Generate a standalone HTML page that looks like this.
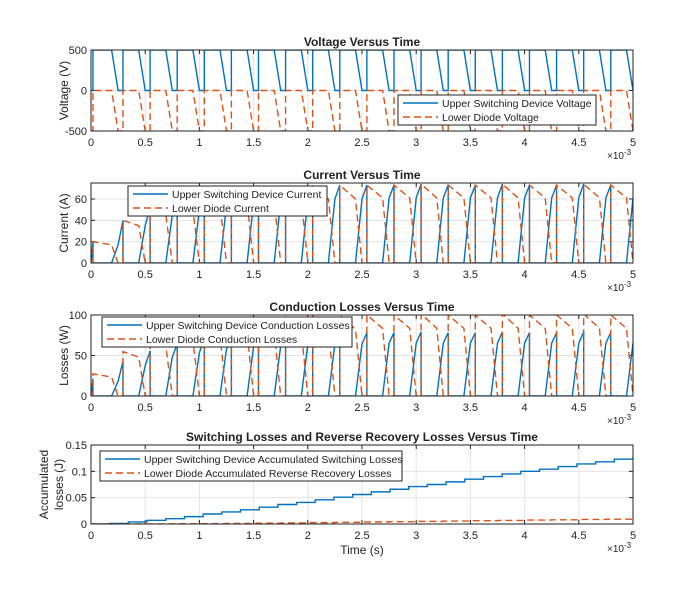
<!DOCTYPE html>
<html><head><meta charset="utf-8"><style>
body{margin:0;background:#fff}
svg text{font-family:"Liberation Sans",sans-serif;fill:#222}
</style></head><body>
<svg id="fig" width="700" height="600" xmlns="http://www.w3.org/2000/svg"></svg>
<script>
// per-cycle data (A)
const iMax=[20,40,52,60,65,68,70,71,72,73,73,73,74,73,73,74,73,73,74,73,73];
const iMin=[17,35,45,50,54,57,58,59,60,60,61,61,61,61,61,61,61,61,61,61];
// cumulative losses (J) after each cycle
const swCum=[0,0.001,0.004,0.007,0.010,0.014,0.019,0.023,0.027,0.032,0.037,0.041,0.046,0.051,0.056,0.061,0.066,0.071,0.075,0.080,0.085,0.090,0.095,0.100,0.104,0.109,0.114,0.118,0.123,0.128];
const rrCum=[0,0,0,0.0003,0.0006,0.001,0.0015,0.002,0.0026,0.0032,0.0038,0.0044,0.005,0.0056,0.0062,0.0068,0.0074,0.008,0.0086,0.0092,0.0098];
const xTicks=[0,0.5,1,1.5,2,2.5,3,3.5,4,4.5,5];
const T=0.25,TR=0.06,TON=0.045;

const svg=document.getElementById('fig');
const NS='http://www.w3.org/2000/svg';
function el(tag,attrs,parent){const e=document.createElementNS(NS,tag);for(const k in attrs)e.setAttribute(k,attrs[k]);(parent||svg).appendChild(e);return e;}
const X0=91,X1=633;
const xs=t=>X0+(t/5)*(X1-X0);

function axes(id,top,bot,ymin,ymax,yt,ylabs,title,ylab){
  const g=el('g',{});
  
  
  const ys=v=>bot-(v-ymin)/(ymax-ymin)*(bot-top);
  el('rect',{x:X0,y:top,width:X1-X0,height:bot-top,fill:'#fff'},g);
  xTicks.forEach(t=>{el('line',{x1:xs(t),x2:xs(t),y1:top,y2:bot,stroke:'#e3e3e3','stroke-width':1},g);});
  yt.forEach(v=>{el('line',{x1:X0,x2:X1,y1:ys(v),y2:ys(v),stroke:'#e3e3e3','stroke-width':1},g);});
  xTicks.forEach(t=>{
    el('line',{x1:xs(t),x2:xs(t),y1:bot,y2:bot-4,stroke:'#222'},g);
    el('line',{x1:xs(t),x2:xs(t),y1:top,y2:top+4,stroke:'#222'},g);
    const tx=el('text',{x:xs(t),y:bot+15,'font-size':11,'text-anchor':'middle'},g);tx.textContent=String(t);
    
    
  });
  yt.forEach((v,i)=>{
    el('line',{x1:X0,x2:X0+4,y1:ys(v),y2:ys(v),stroke:'#222'},g);
    el('line',{x1:X1,x2:X1-4,y1:ys(v),y2:ys(v),stroke:'#222'},g);
    const tx=el('text',{x:X0-4,y:ys(v)+4,'font-size':11,'text-anchor':'end'},g);tx.textContent=ylabs[i];
    
    
  });
  const ex=el('text',{x:607,y:bot+28,'font-size':10},g);ex.innerHTML='×10<tspan dy="-4" font-size="8">-3</tspan>';
  const tt=el('text',{x:362,y:top-4,'font-size':12,'font-weight':'bold','text-anchor':'middle'},g);tt.textContent=title;
  
  
  ylab.forEach((s,i)=>{
    const lx=ylab.length===1?68:48+i*15;
    const yl=el('text',{x:lx,y:(top+bot)/2,'font-size':12,'text-anchor':'middle',transform:`rotate(-90 ${lx} ${(top+bot)/2})`},g);yl.textContent=s;
    
    
  });
  const cp=el('clipPath',{id:'c'+id},g);el('rect',{x:X0,y:top,width:X1-X0,height:bot-top},cp);
  return {g,ys,top,bot};
}
function line(ax,pts,color,dash,name){
  const d=pts.map((p,i)=>(i?'L':'M')+xs(p[0]).toFixed(2)+','+ax.ys(p[1]).toFixed(2)).join('');
  const p=el('path',{d,fill:'none',stroke:color,'stroke-width':1.4,'stroke-dasharray':dash||'none','clip-path':`url(#c${ax.id})`},ax.g);
  
  
}
function frame(ax){el('rect',{x:X0,y:ax.top,width:X1-X0,height:ax.bot-ax.top,fill:'none',stroke:'#222','stroke-width':1},ax.g);}
function legend(ax,x,y,w,labels,name){
  const g=el('g',{},ax.g);
  
  
  el('rect',{x,y,width:w,height:30,fill:'#fff',stroke:'#222','stroke-width':1},g);
  labels.forEach((s,i)=>{
    const yy=y+8+i*14;
    el('line',{x1:x+5,x2:x+40,y1:yy,y2:yy,stroke:i?'#D95319':'#0072BD','stroke-width':1.4,'stroke-dasharray':i?'7,4':'none'},g);
    const t=el('text',{x:x+44,y:yy+4,'font-size':10.5},g);t.textContent=s;
    
    
  });
}
// build waveforms
const N=iMax.length;
const ts=k=>k*T-TR, tm=k=>k*T, te=k=>k===0?0.018:k*T+TON;
const iu=[[0,0],[te(0),iMax[0]],[te(0),0]], idd=[[0,0],[te(0),0]], vu=[[0,0],[te(0),0],[te(0),500]];
for(let k=0;k<N;k++){
  if(k>0){iu.push([ts(k),0],[tm(k),iMin[k-1]],[te(k),iMax[k]],[te(k),0]);
          vu.push([ts(k),500],[tm(k),0],[te(k),0],[te(k),500]);}
  if(k<N-1){idd.push([te(k),0],[te(k),iMax[k]],[ts(k+1),iMin[k]],[tm(k+1),0]);}
}
const vd=vu.map(p=>[p[0],p[1]-500]);
const pu=iu.map(p=>[p[0],p[1]*1.07]), pd=idd.map(p=>[p[0],p[1]*1.37]);
const sw=[[0,0]];swCum.forEach((v,k)=>{if(k){const t=k*(5/(swCum.length-1));sw.push([t,swCum[k-1]],[t,v]);}});
const rr=[[0,0]];rrCum.forEach((v,k)=>{if(k){const t=k*(5/(rrCum.length-1));rr.push([t,rrCum[k-1]],[t,v]);}});

let a=axes('voltage',50,131,-500,500,[-500,0,500],['-500','0','500'],'Voltage Versus Time',['Voltage (V)']);a.id='voltage';
line(a,vu,'#0072BD',null,'upper-voltage-line');line(a,vd,'#D95319','7,4','diode-voltage-line');frame(a);
legend(a,398,95,198,['Upper Switching Device Voltage','Lower Diode Voltage'],'voltage-legend');

a=axes('current',183,263,0,75,[0,20,40,60],['0','20','40','60'],'Current Versus Time',['Current (A)']);a.id='current';
line(a,iu,'#0072BD',null,'upper-current-line');line(a,idd,'#D95319','7,4','diode-current-line');frame(a);
legend(a,128,186,199,['Upper Switching Device Current','Lower Diode Current'],'current-legend');

a=axes('cond',315,396,0,100,[0,50,100],['0','50','100'],'Conduction Losses Versus Time',['Losses (W)']);a.id='cond';
line(a,pu,'#0072BD',null,'upper-conduction-line');line(a,pd,'#D95319','7,4','diode-conduction-line');frame(a);
legend(a,102,317,250,['Upper Switching Device Conduction Losses','Lower Diode Conduction Losses'],'conduction-legend');

a=axes('acc',445,524,0,0.15,[0,0.05,0.1,0.15],['0','0.05','0.1','0.15'],'Switching Losses and Reverse Recovery Losses Versus Time',['Accumulated','losses  (J)']);a.id='acc';
line(a,sw,'#0072BD',null,'switching-loss-line');line(a,rr,'#D95319','7,4','recovery-loss-line');frame(a);
legend(a,100,451,302,['Upper Switching Device Accumulated Switching Losses','Lower Diode Accumulated Reverse Recovery Losses'],'accumulated-legend');
const xl=el('text',{x:362,y:554,'font-size':12,'text-anchor':'middle'});xl.textContent='Time (s)';


</script>
</body></html>
